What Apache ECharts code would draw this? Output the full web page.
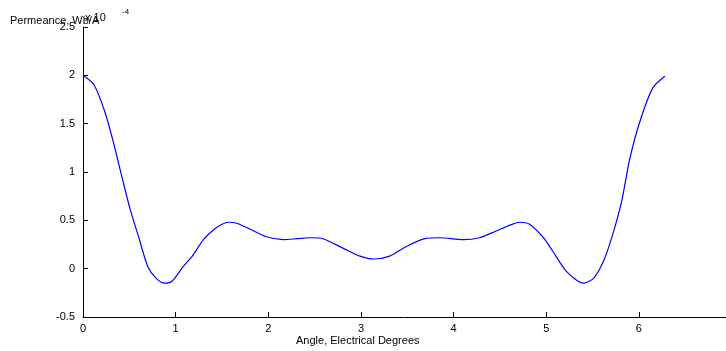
<!DOCTYPE html>
<html>
<head>
<meta charset="utf-8">
<script src="https://cdn.jsdelivr.net/npm/echarts@6/dist/echarts.min.js"></script>
<style>
	html, body { margin: 0; padding: 0; background: #fff; }
	#chart { width: 726px; height: 351px; }
</style>
</head>
<body>
<div id="chart"></div>
<script>
// angle (electrical, rad) and permeance (x 1e-4 Wb/A)
var angles = [0.00, 0.12, 0.24, 0.33, 0.42, 0.51, 0.60, 0.70, 0.79, 0.88,
	0.96, 1.08, 1.18, 1.30, 1.42, 1.50, 1.57, 1.66, 1.80, 1.98,
	2.16, 2.31, 2.45, 2.59, 2.81, 2.99, 3.14, 3.31, 3.49, 3.69,
	3.85, 4.10, 4.28, 4.46, 4.61, 4.71, 4.82, 4.97, 5.07, 5.22,
	5.40, 5.51, 5.61, 5.70, 5.81, 5.90, 6.01, 6.15, 6.28];
var permeance = [2.00, 1.90, 1.61, 1.30, 0.95, 0.61, 0.33, 0.02, -0.10, -0.15,
	-0.13, 0.02, 0.13, 0.30, 0.41, 0.46, 0.48, 0.47, 0.41, 0.33,
	0.30, 0.31, 0.32, 0.31, 0.21, 0.13, 0.10, 0.13, 0.23, 0.31,
	0.32, 0.30, 0.32, 0.39, 0.45, 0.48, 0.46, 0.32, 0.18, -0.03,
	-0.15, -0.10, 0.06, 0.30, 0.68, 1.13, 1.52, 1.87, 1.99];
var yTicks = ['-0.5', '0', '0.5', '1', '1.5', '2', '2.5'];

var chart = echarts.init(document.getElementById('chart'));
var font = 'Liberation Sans, Arial, sans-serif';

var option = {
	animation: false,
	grid: {
		left: 83,
		right: 0,
		top: 27,
		bottom: 34
	},
	xAxis: {
		type: 'value',
		min: 0,
		max: 6.94,
		interval: 1,
		splitLine: { show: false },
		axisLine: { onZero: false, lineStyle: { color: '#000', width: 1 } },
		axisTick: { inside: true, length: 5, lineStyle: { color: '#000' } },
		axisLabel: {
			color: '#000',
			fontFamily: font,
			fontSize: 11,
			margin: 6,
			showMaxLabel: false
		}
	},
	yAxis: {
		type: 'value',
		min: -0.5,
		max: 2.5,
		interval: 0.5,
		splitLine: { show: false },
		axisLine: { show: true, onZero: false, lineStyle: { color: '#000', width: 1 } },
		axisTick: { show: true, inside: true, length: 5, lineStyle: { color: '#000' } },
		axisLabel: {
			color: '#000',
			fontFamily: font,
			fontSize: 11,
			margin: 8,
			formatter: function (v) {
				var s = String(Math.round(v * 10) / 10);
				return yTicks.indexOf(s) >= 0 ? s : '';
			}
		}
	},
	graphic: [
		{
			type: 'text', left: 10, top: 15,
			style: { text: 'Permeance, Wb/A', fill: '#000', font: '11px ' + font }
		},
		{
			type: 'text', left: 85, top: 12,
			style: { text: 'x 10', fill: '#000', font: '11px ' + font }
		},
		{
			type: 'text', left: 122, top: 8,
			style: { text: '-4', fill: '#000', font: '8px ' + font }
		},
		{
			type: 'text', left: 296, top: 335,
			style: { text: 'Angle, Electrical Degrees', fill: '#000', font: '11px ' + font }
		}
	],
	series: [{
		type: 'line',
		data: angles.map(function (a, i) { return [a, permeance[i]]; }),
		showSymbol: false,
		smooth: 0.25,
		lineStyle: { color: '#0000ff', width: 1.2 },
		itemStyle: { color: '#0000ff' }
	}]
};
chart.setOption(option);
</script>
</body>
</html>
